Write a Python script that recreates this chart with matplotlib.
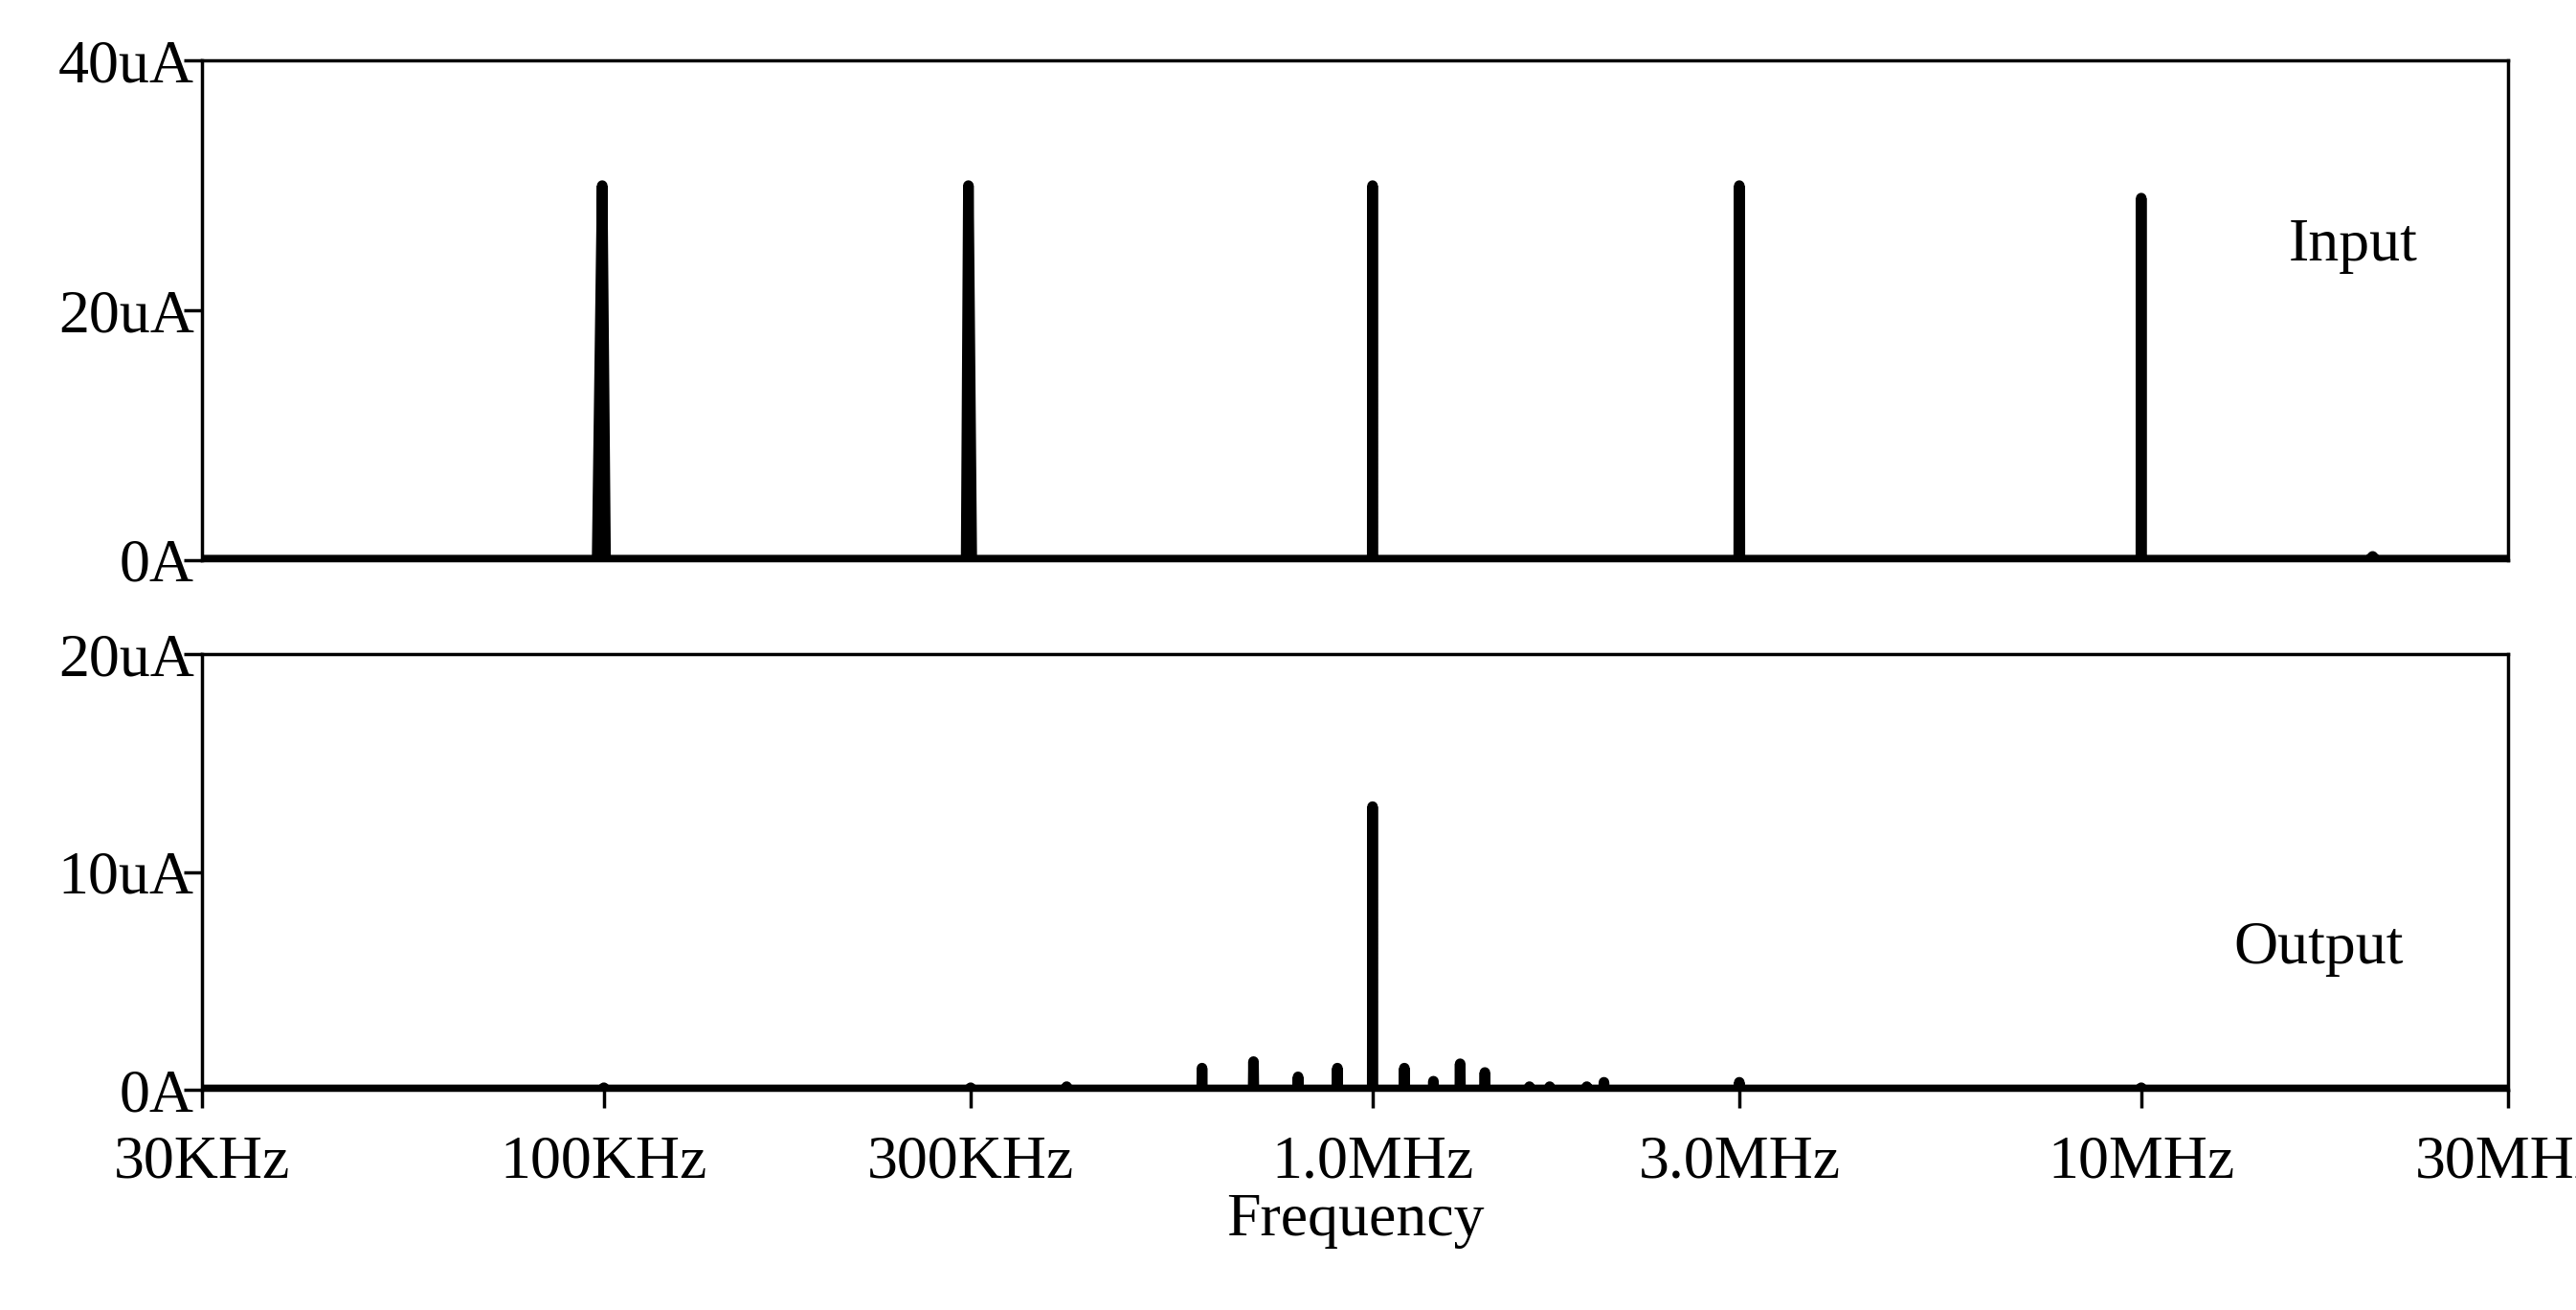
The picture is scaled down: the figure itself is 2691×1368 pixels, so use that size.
import numpy as np
import matplotlib
matplotlib.use('Agg')
import matplotlib.pyplot as plt

plt.rcParams['font.family'] = ['Liberation Serif', 'DejaVu Serif']

# spectrum samples (Hz, uA)
in_freq = [3e4, 9.8e4, 9.95e4, 1.005e5, 2.96e5, 2.98e5, 3.01e5, 9.99e5, 1e6, 1.001e6,
           2.995e6, 3e6, 3.005e6, 9.99e6, 1e7, 1.001e7, 1.98e7, 2e7, 2.02e7, 3e7]
in_amp = [0, 0, 30, 0, 0, 30, 0, 0, 30, 0,
          0, 30, 0, 0, 29, 0, 0, 0.3, 0, 0]

spur_freq = [1e5, 3e5, 4e5, 6e5, 7e5, 8e5, 9e5, 1e6, 1.1e6, 1.2e6, 1.3e6, 1.4e6,
             1.6e6, 1.7e6, 1.9e6, 2.0e6, 3e6, 1e7]
spur_amp = [0.1, 0.1, 0.15, 1.0, 1.3, 0.6, 1.0, 13.0, 1.0, 0.4, 1.2, 0.8,
            0.15, 0.15, 0.15, 0.35, 0.35, 0.1]

xticks = [3e4, 1e5, 3e5, 1e6, 3e6, 1e7, 3e7]
xlabels = ['30KHz', '100KHz', '300KHz', '1.0MHz', '3.0MHz', '10MHz', '30MHz']

# build output trace: narrow spikes on zero baseline
out_f, out_a = [3e4], [0.0]
for f, a in zip(spur_freq, spur_amp):
    out_f += [f * 0.999, f, f * 1.001]
    out_a += [0.0, a, 0.0]
out_f.append(3e7)
out_a.append(0.0)

fig = plt.figure(figsize=(26.91, 13.68), dpi=100)
ax1 = fig.add_axes([0.0784, 0.5724, 0.8952, 0.3812])
ax2 = fig.add_axes([0.0784, 0.168, 0.8952, 0.3327])

for ax in (ax1, ax2):
    ax.set_xscale('log')
    ax.set_xlim(3e4, 3e7)
    ax.set_xticks(xticks)
    ax.minorticks_off()
    for s in ax.spines.values():
        s.set_linewidth(2.5)
    ax.tick_params(direction='out', length=14, width=2.5, labelsize=46)
    ax.tick_params(axis='y', pad=-8)
    ax.tick_params(axis='x', pad=20)

ax1.plot(in_freq, in_amp, color='black', lw=8, solid_capstyle='round')
ax1.set_ylim(0, 40)
ax1.set_yticks([0, 20, 40])
ax1.set_yticklabels(['0A', '20uA', '40uA'])
ax1.set_xticklabels([])
ax1.tick_params(axis='x', length=0)
ax1.text(0.933, 0.6, 'Input', transform=ax1.transAxes, fontsize=46, ha='center')

ax2.plot(out_f, out_a, color='black', lw=8, solid_capstyle='round')
ax2.set_ylim(0, 20)
ax2.set_yticks([0, 10, 20])
ax2.set_yticklabels(['0A', '10uA', '20uA'])
ax2.set_xticklabels(xlabels)
ax2.text(0.918, 0.29, 'Output', transform=ax2.transAxes, fontsize=46, ha='center')
ax2.set_xlabel('Frequency', fontsize=46, labelpad=2)

fig.savefig('out.png', dpi=100)
